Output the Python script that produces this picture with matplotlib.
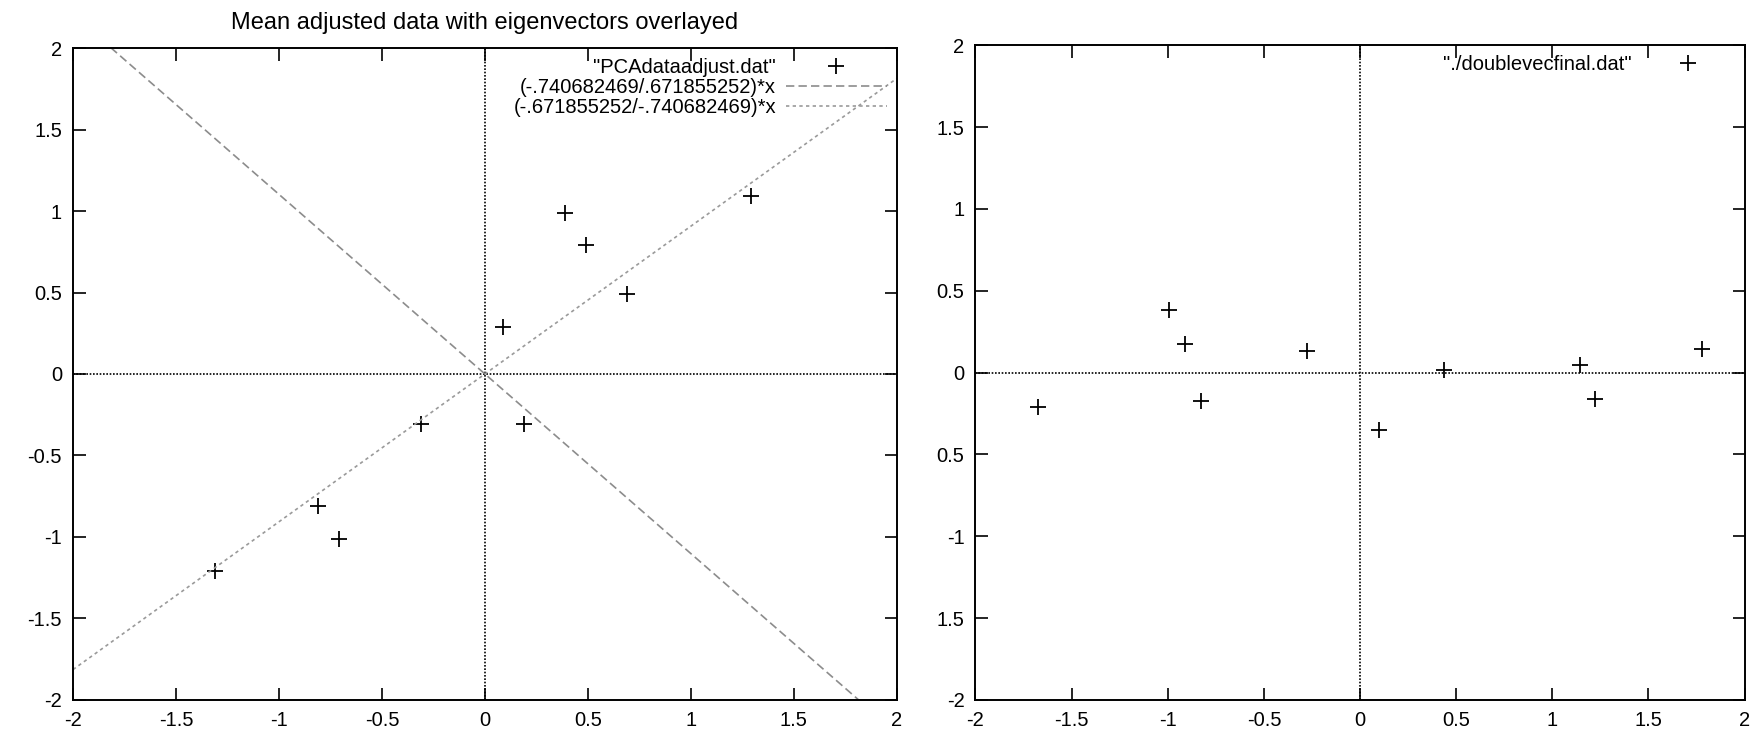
#PCA plot: mean adjusted data + eigenvectors, and the transformed data
import numpy as np
import matplotlib.pyplot as plt

plt.rcParams['font.family'] = ['Liberation Sans', 'DejaVu Sans']

#mean adjusted data
adj_x = [0.69, -1.31, 0.39, 0.09, 1.29, 0.49, 0.19, -0.81, -0.31, -0.71]
adj_y = [0.49, -1.21, 0.99, 0.29, 1.09, 0.79, -0.31, -0.81, -0.31, -1.01]

#eigenvector slopes
slope1 = -.740682469 / .671855252
slope2 = -.671855252 / -.740682469
line_x = [-2.0, 2.0]

#data transformed with both eigenvectors
fin_x = [-0.827970186, 1.77758033, -0.992197494, -0.274210416, -1.67580142,
         -0.912949103, 0.0991094375, 1.14457216, 0.438046137, 1.22382056]
fin_y = [-0.175115307, 0.142857227, 0.384374989, 0.130417207, -0.209498461,
         0.175282444, -0.349824698, 0.0464172582, 0.0177646297, -0.162675287]

ticks = [-2, -1.5, -1, -0.5, 0, 0.5, 1, 1.5, 2]
xtick_labels = ['-2', '-1.5', '-1', '-0.5', '0', '0.5', '1', '1.5', '2']
left_ylabels = xtick_labels
right_ylabels = ['-2', '1.5', '-1', '0.5', '0', '0.5', '1', '1.5', '2']

fig = plt.figure(figsize=(17.64, 7.29), dpi=100)
ax1 = fig.add_axes([0.0414, 0.040, 0.467, 0.894])
ax2 = fig.add_axes([0.553, 0.040, 0.436, 0.898])


def decorate(ax, ylabels):
    ax.set_xlim(-2, 2)
    ax.set_ylim(-2, 2)
    ax.set_xticks(ticks)
    ax.set_xticklabels(xtick_labels)
    ax.set_yticks(ticks)
    ax.set_yticklabels(ylabels)
    ax.tick_params(direction='in', length=9, width=1.2, top=True, right=True,
                   labelsize=14.5, pad=8)
    for s in ax.spines.values():
        s.set_linewidth(1.4)
    ax.axhline(0, color='black', lw=1.2, ls=(0, (1.0, 1.0)), zorder=1)
    ax.axvline(0, color='black', lw=1.2, ls=(0, (1.0, 1.0)), zorder=1)


decorate(ax1, left_ylabels)
ax1.plot(adj_x, adj_y, '+', color='black', ms=11, mew=1.3,
         label='"PCAdataadjust.dat"')
ax1.plot(line_x, [slope1 * v for v in line_x], color='#8c8c8c', lw=1.2,
         ls=(0, (5, 2.5)), label='(-.740682469/.671855252)*x')
ax1.plot(line_x, [slope2 * v for v in line_x], color='#9a9a9a', lw=1.2,
         ls=(0, (2, 2)), label='(-.671855252/-.740682469)*x')
ax1.set_title('Mean adjusted data with eigenvectors overlayed', fontsize=17, pad=14)
ax1.legend(loc='upper right', frameon=False, markerfirst=False, fontsize=14.5,
           handlelength=5.0, handletextpad=0.5, labelspacing=0.05,
           borderaxespad=0.3, borderpad=0.2)

decorate(ax2, right_ylabels)
ax2.plot(fin_x, fin_y, '+', color='black', ms=11, mew=1.3,
         label='"./doublevecfinal.dat"')
ax2.legend(loc='upper right', frameon=False, markerfirst=False, fontsize=14.5,
           handlelength=4.6, handletextpad=0.5, borderaxespad=0.3, borderpad=0.2)

plt.savefig('out.png', dpi=100)
